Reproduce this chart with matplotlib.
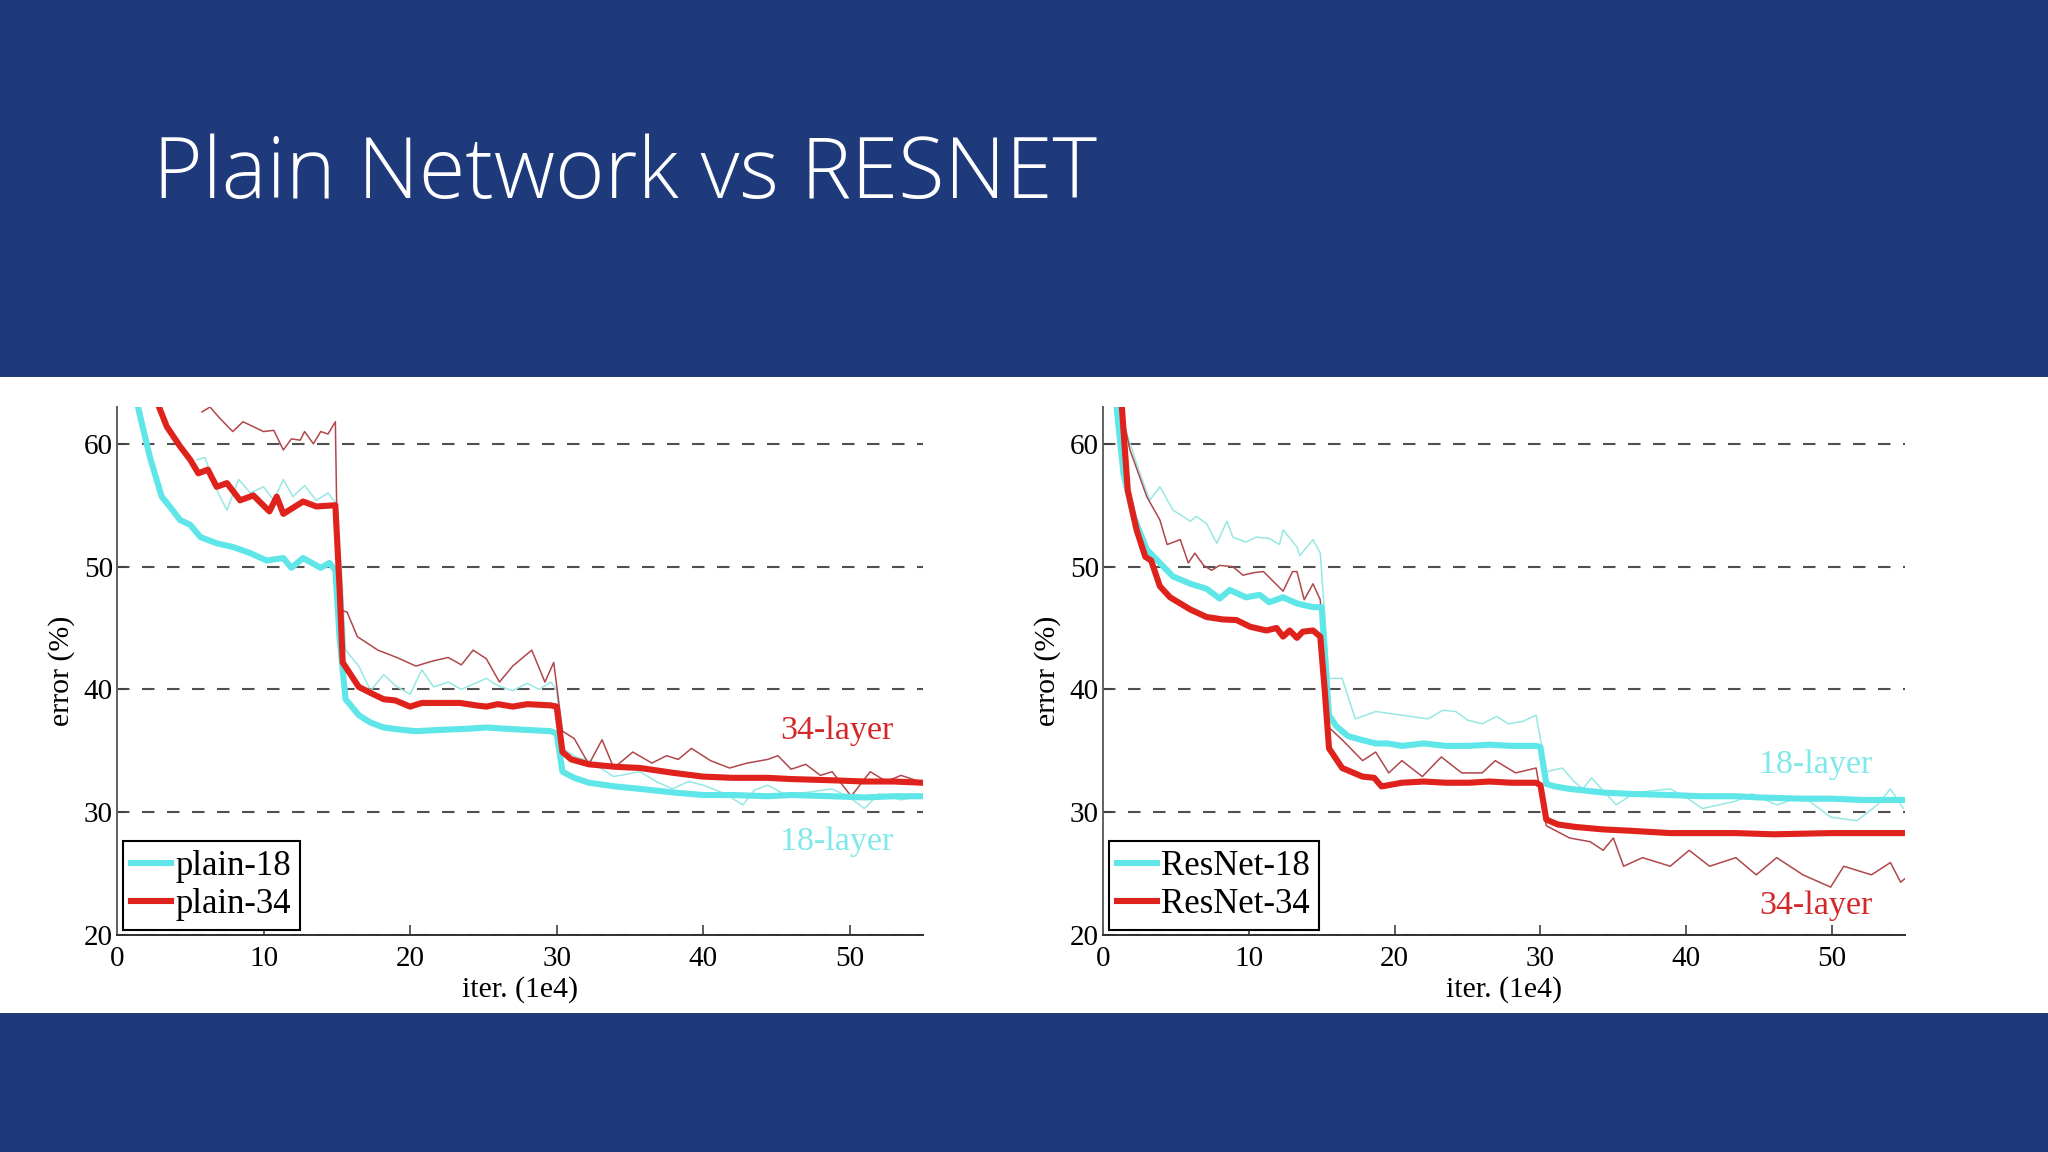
import matplotlib
matplotlib.use("Agg")
import matplotlib.pyplot as plt
from matplotlib.patches import Rectangle

# ---------------- data ----------------
# Left panel: plain networks
p18_val_x = [1.45, 2.25, 3.05, 3.6, 4.3, 5.0, 5.7, 6.8, 7.9, 9.1, 10.2, 11.35, 11.9, 12.7, 13.9, 14.5, 14.9, 15.2, 15.6, 16.5, 17.3, 18.2, 19.5, 20.4, 22, 24, 25.2, 26.5, 28, 29.6, 30.0, 30.4, 31.2, 32.2, 34, 35.7, 38, 40, 42, 44.4, 46, 48.8, 51, 53, 55]
p18_val_y = [62.9, 58.9, 55.7, 54.9, 53.8, 53.4, 52.4, 51.9, 51.6, 51.1, 50.5, 50.7, 49.9, 50.7, 49.9, 50.3, 49.7, 44, 39.2, 37.9, 37.3, 36.9, 36.7, 36.6, 36.7, 36.8, 36.9, 36.8, 36.7, 36.6, 36.4, 33.3, 32.8, 32.4, 32.1, 31.9, 31.6, 31.4, 31.4, 31.3, 31.4, 31.3, 31.2, 31.3, 31.3]

p34_val_x = [2.9, 3.4, 4.3, 5.0, 5.55, 6.2, 6.8, 7.5, 8.4, 9.3, 10.4, 10.9, 11.35, 12.7, 13.6, 14.9, 15.2, 15.4, 16.5, 17.5, 18.2, 19.0, 20.0, 20.8, 22, 23.4, 24.5, 25.2, 26, 27, 28, 29.6, 30.0, 30.4, 31, 32.2, 34, 35.7, 38, 40, 42, 44.4, 46, 48.8, 51, 53, 55]
p34_val_y = [62.9, 61.4, 59.8, 58.7, 57.6, 57.9, 56.5, 56.8, 55.4, 55.8, 54.5, 55.7, 54.3, 55.3, 54.9, 55.0, 48, 42.2, 40.2, 39.6, 39.2, 39.1, 38.6, 38.9, 38.9, 38.9, 38.7, 38.6, 38.8, 38.6, 38.8, 38.7, 38.6, 34.9, 34.3, 33.9, 33.7, 33.6, 33.2, 32.9, 32.8, 32.8, 32.7, 32.6, 32.5, 32.5, 32.4]

p34_train_x = [5.8, 6.35, 7.0, 7.9, 8.6, 10.0, 10.7, 11.35, 11.9, 12.5, 12.8, 13.4, 13.9, 14.4, 14.9, 15.1, 15.7, 16.4, 17.8, 19.1, 20.4, 21.5, 22.6, 23.5, 24.3, 25.2, 26.1, 27, 28.3, 29.2, 29.8, 30.4, 31.2, 32.2, 33.1, 33.9, 35.2, 36.5, 37.5, 38.3, 39.2, 40.5, 41.8, 43, 44.4, 45.1, 46, 47, 48, 48.8, 50.1, 51.4, 52.5, 53.5, 55]
p34_train_y = [62.6, 63.0, 62.1, 61.0, 61.8, 61.0, 61.1, 59.5, 60.4, 60.3, 61.0, 60.0, 61.0, 60.8, 61.8, 46.5, 46.3, 44.3, 43.2, 42.6, 41.9, 42.3, 42.6, 42.0, 43.2, 42.5, 40.6, 41.9, 43.2, 40.6, 42.2, 36.6, 36.0, 33.9, 35.9, 33.6, 34.9, 34.0, 34.6, 34.3, 35.2, 34.2, 33.6, 34.0, 34.3, 34.6, 33.5, 33.9, 33.0, 33.3, 31.3, 33.3, 32.5, 33.0, 32.4]

p18_train_x = [5.45, 6.0, 6.7, 7.5, 8.3, 9.1, 10.0, 10.7, 11.35, 12.0, 12.8, 13.6, 14.4, 14.9, 15.3, 15.6, 16.5, 17.3, 18.2, 19.0, 20, 20.8, 21.6, 22.6, 23.5, 25.2, 26, 27, 28, 28.8, 29.6, 30.0, 30.4, 31.3, 32.2, 33.9, 35.7, 36.8, 37.9, 39, 40, 41.5, 42.7, 43.5, 44.4, 45.5, 47, 48.8, 50, 51, 52, 53.5, 55]
p18_train_y = [58.7, 58.9, 56.5, 54.6, 57.1, 56.0, 56.5, 55.4, 57.1, 55.7, 56.6, 55.4, 56.0, 55.2, 50, 43.2, 41.9, 39.9, 41.2, 40.3, 39.6, 41.6, 40.2, 40.6, 40.0, 40.9, 40.3, 39.9, 40.5, 40.0, 40.6, 40.0, 35.2, 34.5, 34.2, 32.9, 33.3, 32.5, 31.9, 32.5, 32.2, 31.5, 30.6, 31.8, 32.2, 31.5, 31.6, 31.9, 31.2, 30.3, 31.5, 31.0, 31.4]

# Right panel: ResNets
r18_val_x = [0.94, 1.4, 2.1, 3.0, 3.9, 4.8, 6.0, 7.1, 8.0, 8.7, 9.8, 10.75, 11.4, 12.35, 13.3, 14.4, 15.0, 15.2, 15.5, 16.0, 16.8, 17.7, 18.7, 19.5, 20.5, 22, 23.5, 25.1, 26.5, 28, 29.7, 30.0, 30.4, 31, 32, 34.3, 36, 38.9, 41, 43.4, 45, 48, 50, 52, 55]
r18_val_y = [62.9, 57.6, 54.1, 51.4, 50.3, 49.2, 48.6, 48.2, 47.4, 48.1, 47.5, 47.7, 47.1, 47.5, 47.0, 46.7, 46.7, 43, 37.9, 37.0, 36.2, 35.9, 35.6, 35.6, 35.4, 35.6, 35.4, 35.4, 35.5, 35.4, 35.4, 35.3, 32.3, 32.1, 31.9, 31.6, 31.5, 31.4, 31.3, 31.3, 31.2, 31.1, 31.1, 31.0, 31.0]

r34_val_x = [1.3, 1.7, 2.3, 2.9, 3.3, 3.9, 4.6, 6.0, 7.1, 8.2, 9.15, 10.1, 11.2, 11.9, 12.35, 12.8, 13.3, 13.7, 14.4, 14.9, 15.2, 15.5, 16.4, 17.8, 18.6, 19.1, 20.5, 22, 23.5, 25.1, 26.5, 28, 29.7, 30.0, 30.4, 31.2, 32.4, 34.3, 36, 38.9, 41, 43.4, 46, 50, 55]
r34_val_y = [62.9, 56.2, 53.0, 50.8, 50.5, 48.4, 47.5, 46.5, 45.9, 45.7, 45.65, 45.1, 44.8, 45.0, 44.3, 44.8, 44.2, 44.7, 44.8, 44.3, 40, 35.2, 33.6, 32.9, 32.8, 32.1, 32.4, 32.5, 32.4, 32.4, 32.5, 32.4, 32.4, 32.2, 29.4, 29.0, 28.8, 28.6, 28.5, 28.3, 28.3, 28.3, 28.2, 28.3, 28.3]

r18_train_x = [1.4, 2.3, 3.2, 3.9, 4.8, 6.0, 6.4, 7.1, 7.8, 8.5, 8.9, 9.8, 10.5, 11.4, 12.1, 12.35, 13.3, 13.5, 14.4, 14.9, 15.5, 16.4, 17.3, 18.7, 20.5, 22.3, 23.3, 24.2, 25, 26, 27, 27.8, 28.8, 29.7, 30.4, 31.5, 32.3, 32.9, 33.5, 35.2, 36.5, 38.9, 40, 41.1, 43.4, 44.5, 46.2, 48, 49.9, 51.7, 53.1, 54.0, 54.9]
r18_train_y = [61.7, 58.4, 55.4, 56.5, 54.6, 53.7, 54.1, 53.5, 51.9, 53.7, 52.4, 52.0, 52.4, 52.3, 51.8, 53.0, 51.6, 50.9, 52.2, 51.1, 40.9, 40.9, 37.6, 38.2, 37.9, 37.6, 38.3, 38.2, 37.5, 37.2, 37.8, 37.2, 37.4, 37.9, 33.3, 33.6, 32.5, 31.9, 32.8, 30.6, 31.6, 31.9, 31.2, 30.3, 30.9, 31.5, 30.6, 31.3, 29.6, 29.3, 30.6, 31.9, 30.3]

r34_train_x = [1.4, 1.85, 3.0, 3.9, 4.4, 5.3, 5.85, 6.3, 6.9, 7.45, 8.0, 8.9, 9.6, 10.3, 11.0, 12.35, 13.0, 13.3, 13.8, 14.4, 14.9, 15.5, 16.4, 17.8, 18.7, 19.6, 20.5, 21.9, 23.2, 24.6, 26, 26.9, 28.3, 29.7, 30.4, 32, 33.4, 34.3, 35, 35.7, 37, 38.9, 40.2, 41.6, 43.4, 44.8, 46.2, 48, 49.9, 50.8, 52.7, 54, 54.7, 55]
r34_train_y = [62.0, 59.5, 55.7, 53.8, 51.8, 52.2, 50.3, 51.1, 50.1, 49.7, 50.1, 50.0, 49.3, 49.5, 49.6, 48.0, 49.6, 49.6, 47.3, 48.6, 47.3, 36.9, 35.9, 34.2, 34.9, 33.2, 34.2, 32.9, 34.5, 33.2, 33.2, 34.2, 33.2, 33.6, 28.9, 27.9, 27.6, 26.9, 27.9, 25.6, 26.3, 25.6, 26.9, 25.6, 26.3, 24.9, 26.3, 24.9, 23.9, 25.6, 24.9, 25.9, 24.3, 24.6]

x_ticks = [0, 10, 20, 30, 40, 50]
y_ticks = [20, 30, 40, 50, 60]
title_text = "Plain Network vs RESNET"
left_labels = ["plain-18", "plain-34"]
right_labels = ["ResNet-18", "ResNet-34"]

# ---------------- style ----------------
BLUE = "#1F3A7A"
CYAN = "#5EE6E8"
RED = "#E0221C"
THIN_RED = "#B0474C"
THIN_CYAN = "#96E8E4"
SERIF = ["Liberation Serif", "DejaVu Serif"]
TICK_FS = 21
LABEL_FS = 21.5
LAYER_FS = 24.5
LEG_FS = 25

W, H = 2048, 1152
fig = plt.figure(figsize=(W / 100, H / 100), dpi=100)
fig.patch.set_facecolor(BLUE)
fig.patches.append(Rectangle((0, 1 - 1013 / H), 1, (1013 - 377) / H,
                             transform=fig.transFigure, facecolor="white",
                             edgecolor="none", zorder=-5))

fig.text(153 / W, 1 - 198 / H, title_text, color="white", fontsize=61,
         family=["Open Sans", "DejaVu Sans"], fontweight="light",
         ha="left", va="baseline")


def make_axes(x0, x1, top, bottom):
    ax = fig.add_axes([x0 / W, 1 - bottom / H, (x1 - x0) / W, (bottom - top) / H])
    ax.set_zorder(2)
    ax.set_facecolor("none")
    ax.set_xlim(0, 55)
    ax.set_ylim(20, 63.0)
    for s in ["top", "right"]:
        ax.spines[s].set_visible(False)
    ax.spines["left"].set_color("#606060")
    ax.spines["bottom"].set_color("#303030")
    ax.spines["left"].set_linewidth(1.4)
    ax.spines["bottom"].set_linewidth(1.4)
    ax.set_xticks(x_ticks)
    ax.set_yticks(y_ticks)
    ax.tick_params(direction="in", length=7, width=1.2, color="#404040",
                   labelsize=TICK_FS)
    ax.tick_params(axis="x", pad=8)
    ax.tick_params(axis="y", pad=3)
    for lab in ax.get_xticklabels() + ax.get_yticklabels():
        lab.set_family(SERIF)
    for yv in y_ticks:
        ax.axhline(yv, color="#505050", lw=1.5, ls=(0, (6, 6)), zorder=1)
    ax.set_xlabel("iter. (1e4)", fontsize=LABEL_FS, family=SERIF, labelpad=3)
    ax.set_ylabel("error (%)", fontsize=LABEL_FS, family=SERIF, labelpad=6)
    return ax


def draw_panel(ax, s18v, s34v, s18t, s34t, labels, lab34_xy, lab18_xy):
    ax.plot(*s18t, color=THIN_CYAN, lw=1.1, zorder=2)
    ax.plot(*s34t, color=THIN_RED, lw=1.1, zorder=2)
    l18, = ax.plot(*s18v, color=CYAN, lw=4.4, zorder=3, solid_joinstyle="round")
    l34, = ax.plot(*s34v, color=RED, lw=4.4, zorder=4, solid_joinstyle="round")
    leg = ax.legend([l18, l34], labels, loc="lower left",
                    bbox_to_anchor=(0.007, 0.01), prop={"family": SERIF, "size": LEG_FS},
                    frameon=True, fancybox=False, edgecolor="black",
                    handlelength=1.15, handletextpad=0.12, borderpad=0.25,
                    labelspacing=0.15, borderaxespad=0.0)
    leg.get_frame().set_linewidth(1.5)
    leg.get_frame().set_alpha(1)
    ax.text(*lab34_xy, "34-layer", color="#D42828", fontsize=LAYER_FS,
            family=SERIF, ha="center", va="center")
    ax.text(*lab18_xy, "18-layer", color="#7FE8E8", fontsize=LAYER_FS,
            family=SERIF, ha="center", va="center")


axL = make_axes(117, 923, 407, 935)
draw_panel(axL, (p18_val_x, p18_val_y), (p34_val_x, p34_val_y),
           (p18_train_x, p18_train_y), (p34_train_x, p34_train_y),
           left_labels, (49.1, 36.6), (49.1, 27.6))

axR = make_axes(1103, 1905, 407, 935)
draw_panel(axR, (r18_val_x, r18_val_y), (r34_val_x, r34_val_y),
           (r18_train_x, r18_train_y), (r34_train_x, r34_train_y),
           right_labels, (48.9, 22.4), (48.9, 33.9))

fig.savefig("out.png", dpi=100, facecolor=fig.get_facecolor())
